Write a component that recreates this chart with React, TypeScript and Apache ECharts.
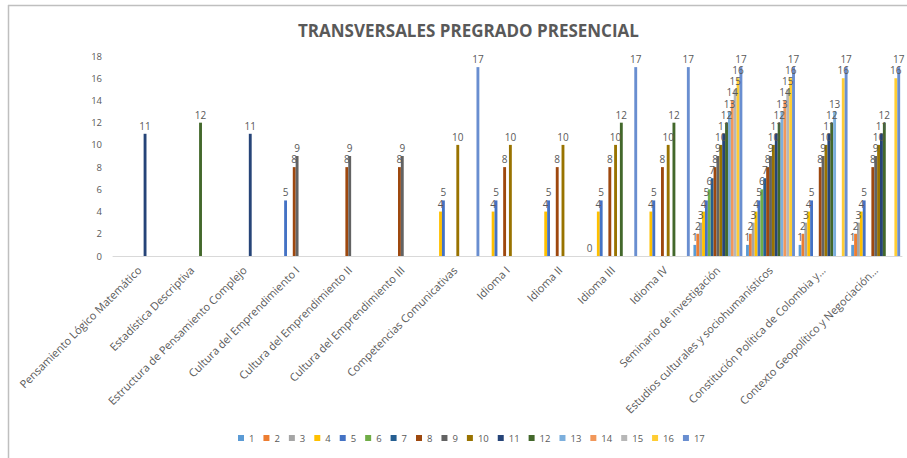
import React, { useEffect, useRef } from "react";
import * as echarts from "echarts";

const categories = [
  "Pensamiento Lógico Matemático",
  "Estadística Descriptiva",
  "Estructura de Pensamiento Complejo",
  "Cultura del Emprendimiento I",
  "Cultura del Emprendimiento II",
  "Cultura del Emprendimiento III",
  "Competencias Comunicativas",
  "Idioma I",
  "Idioma II",
  "Idioma III",
  "Idioma IV",
  "Seminario de investigación",
  "Estudios culturales y sociohumanísticos",
  "Constitución Política de Colombia y…",
  "Contexto Geopolítico y Negociación…",
];

const N = null;
const s1 = [N, N, N, N, N, N, N, N, N, 0, N, 1, 1, 1, 1];
const s2 = [N, N, N, N, N, N, N, N, N, N, N, 2, 2, 2, 2];
const s3 = [N, N, N, N, N, N, N, N, N, N, N, 3, 3, 3, 3];
const s4 = [N, N, N, N, N, N, 4, 4, 4, 4, 4, 4, 4, 4, 4];
const s5 = [N, N, N, 5, N, N, 5, 5, 5, 5, 5, 5, 5, 5, 5];
const s6 = [N, N, N, N, N, N, N, N, N, N, N, 6, 6, N, N];
const s7 = [N, N, N, N, N, N, N, N, N, N, N, 7, 7, N, N];
const s8 = [N, N, N, 8, 8, 8, N, 8, 8, 8, 8, 8, 8, 8, 8];
const s9 = [N, N, N, 9, 9, 9, N, N, N, N, N, 9, 9, 9, 9];
const s10 = [N, N, N, N, N, N, 10, 10, 10, 10, 10, 10, 10, 10, 10];
const s11 = [11, N, 11, N, N, N, N, N, N, N, N, 11, 11, 11, 11];
const s12 = [N, 12, N, N, N, N, N, N, N, 12, 12, 12, 12, 12, 12];
const s13 = [N, N, N, N, N, N, N, N, N, N, N, 13, 13, 13, N];
const s14 = [N, N, N, N, N, N, N, N, N, N, N, 14, 14, N, N];
const s15 = [N, N, N, N, N, N, N, N, N, N, N, 15, 15, N, N];
const s16 = [N, N, N, N, N, N, N, N, N, N, N, 16, 16, 16, 16];
const s17 = [N, N, N, N, N, N, 17, N, N, 17, 17, 17, 17, 17, 17];

const seriesNames = ["1", "2", "3", "4", "5", "6", "7", "8", "9", "10", "11", "12", "13", "14", "15", "16", "17"];
const seriesData = [s1, s2, s3, s4, s5, s6, s7, s8, s9, s10, s11, s12, s13, s14, s15, s16, s17];
const colors = [
  "#5B9BD5", "#ED7D31", "#A5A5A5", "#FFC000", "#4472C4", "#70AD47", "#255E91", "#9E480E",
  "#636363", "#997300", "#264478", "#43682B", "#7CAFDD", "#F1975A", "#B7B7B7", "#FFCD33", "#698ED0",
];

const yTicks = { min: 0, max: 18, interval: 2 };

export default function App() {
  const ref = useRef<HTMLDivElement>(null);
  useEffect(() => {
    if (!ref.current) return;
    const chart = echarts.init(ref.current, null, { renderer: "svg" });
    const font = "'Open Sans', 'Liberation Sans', sans-serif";
    chart.setOption({
      animation: false,
      backgroundColor: "#ffffff",
      color: colors,
      textStyle: { fontFamily: font },
      title: {
        text: "TRANSVERSALES PREGRADO PRESENCIAL",
        left: 293,
        top: 17,
        textStyle: { fontFamily: font, fontSize: 17, fontWeight: "bold", color: "#595959" },
      },
      legend: {
        bottom: 10,
        left: 233,
        itemWidth: 6,
        itemHeight: 6,
        itemGap: 9,
        icon: "rect",
        textStyle: { fontFamily: font, fontSize: 9.5, color: "#595959" },
        data: seriesNames,
      },
      grid: { left: 113, right: 5, top: 56, bottom: 202, containLabel: false },
      xAxis: {
        type: "category",
        data: categories,
        axisLine: { show: true, lineStyle: { color: "#D9D9D9", width: 1 } },
        axisTick: { show: false },
        axisLabel: {
          interval: 0,
          rotate: 45,
          fontSize: 11,
          color: "#595959",
          fontFamily: font,
          margin: 12,
        },
      },
      yAxis: {
        type: "value",
        min: yTicks.min,
        max: yTicks.max,
        interval: yTicks.interval,
        axisLine: { show: false },
        axisTick: { show: false },
        splitLine: { show: false },
        axisLabel: { fontSize: 9.5, color: "#595959", fontFamily: font, margin: 11 },
      },
      series: seriesData.map((d, i) => ({
        name: seriesNames[i],
        type: "bar",
        data: d,
        barGap: "0%",
        barCategoryGap: "7%",
        label: {
          show: true,
          position: "top",
          distance: 3,
          fontSize: 10,
          color: "#595959",
          fontFamily: font,
        },
      })),
      graphic: [
        { type: "line", shape: { x1: 8, y1: 5.5, x2: 907, y2: 5.5 }, style: { stroke: "#BFBFBF", lineWidth: 1.5 } },
        { type: "line", shape: { x1: 8.5, y1: 5, x2: 8.5, y2: 458 }, style: { stroke: "#BFBFBF", lineWidth: 1.5 } },
      ],
    });
    return () => chart.dispose();
  }, []);
  return (
    <div
      ref={ref}
      style={{ position: "fixed", left: 0, top: 0, width: 907, height: 458 }}
    />
  );
}
